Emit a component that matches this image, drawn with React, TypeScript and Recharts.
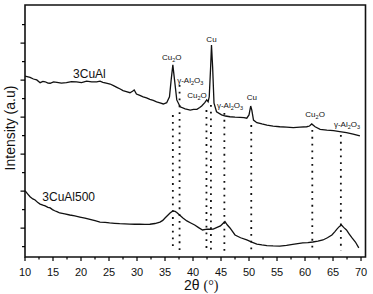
import React from 'react';
import { ComposedChart, Line, Scatter, XAxis, YAxis, ReferenceLine, ReferenceArea } from 'recharts';

const FONT = 'Liberation Sans, Arial, sans-serif';

// 2θ (°) and intensity (a.u.)
const cuAlX = [10, 10.9, 11.5, 12.1, 12.7, 13.2, 13.6, 14.1, 14.5, 15.1, 15.7, 16.5, 17.4, 18.3, 19.2, 20.1, 21, 21.9, 22.8, 23.4, 23.9, 24.5, 25.2, 25.8, 26.4, 27, 27.5, 28.1, 28.75, 29.2, 29.5, 29.9, 30.5, 31.1, 31.7, 32.3, 32.9, 33.5, 34.1, 34.7, 35.3, 35.8, 36.1, 36.4, 36.7, 37.1, 37.7, 38.6, 39.5, 40.1, 40.7, 41.2, 41.55, 42.1, 42.45, 42.7, 42.9, 43.15, 43.3, 43.5, 43.75, 44.2, 45.1, 45.8, 46.6, 47.5, 48.4, 49.1, 49.6, 50, 50.3, 50.5, 50.8, 51.4, 52.3, 53.2, 54.3, 55.5, 56.7, 57.9, 59.1, 60.3, 60.8, 61.2, 61.8, 62.7, 63.9, 65.1, 66.2, 67.4, 68.6, 69.8];
const cuAlY = [922, 915, 906, 901, 886, 893, 891, 884, 883, 890, 888, 884, 886, 892, 891, 887, 895, 890, 891, 894, 888, 884, 879, 870, 861, 852, 843, 838, 832, 840, 847, 825, 818, 810, 804, 796, 790, 783, 777, 771, 778, 810, 901, 982, 901, 793, 756, 745, 738, 742, 742, 752, 760, 778, 793, 783, 810, 973, 1090, 973, 775, 729, 712, 706, 702, 700, 699, 697, 694, 712, 760, 738, 684, 670, 663, 657, 651, 648, 646, 643, 646, 648, 652, 663, 648, 634, 630, 627, 622, 616, 608, 598];

const cuAl500X = [10, 10.5, 10.9, 11.4, 11.8, 12.3, 12.7, 13.2, 13.6, 14.1, 14.5, 14.9, 15.3, 15.8, 16.2, 17.1, 18, 18.9, 19.8, 20.7, 21.6, 22.5, 23.4, 24.3, 25.1, 26, 26.9, 27.8, 28.7, 29.6, 30.5, 31.4, 32.3, 33.2, 34.1, 34.6, 35, 35.5, 35.9, 36.4, 36.8, 37.1, 37.6, 38.2, 38.9, 39.6, 40.3, 41, 41.7, 42.5, 43, 43.6, 44.3, 44.9, 45.3, 45.7, 46.1, 46.6, 47.5, 48.5, 49.6, 50.5, 51.4, 52.3, 53.2, 54.3, 55.5, 56.7, 57.8, 58.7, 59.6, 60.5, 61.4, 62.3, 63.2, 64, 64.8, 65.3, 65.7, 66.1, 66.5, 66.9, 67.4, 67.9, 68.4, 69, 69.6];
const cuAl500Y = [302, 284, 270, 258, 252, 238, 230, 224, 220, 212, 209, 200, 194, 188, 182, 177, 171, 166, 160, 154, 147, 140, 133, 131, 128, 126, 124, 123, 122, 121, 122, 120, 121, 125, 133, 142, 155, 170, 182, 193, 190, 185, 171, 155, 139, 128, 117, 103, 90, 95, 94, 95, 104, 112, 124, 136, 118, 101, 63, 48, 36, 24, 14, 9, 6, 4, 3, 7, 12, 16, 20, 22, 25, 30, 36, 48, 63, 80, 95, 108, 117, 104, 90, 68, 47, 25, -7];

// reflection positions (dotted guide lines): 2θ, top intensity
const refX = [36.4, 37.6, 42.4, 43.2, 45.6, 50.4, 61.3, 66.4];
const refTop = [711, 874, 738, 766, 722, 657, 630, 603];
const refBottom = -24;

// phase labels
const phaseText = ['Cu2O', 'γ-Al2O3', 'Cu2O', 'Cu', 'γ-Al2O3', 'Cu', 'Cu2O', 'γ-Al2O3'];
const phaseX = [36.2, 39.5, 40.7, 43.3, 46.6, 50.5, 61.8, 67.5];
const phaseY = [1009, 884, 803, 1108, 748, 793, 699, 648];

// sample names
const sampleText = ['3CuAl', '3CuAl500'];
const sampleX = [21.5, 17.8];
const sampleY = [910, 247];

const xTicks = [10, 12.5, 15, 17.5, 20, 22.5, 25, 27.5, 30, 32.5, 35, 37.5, 40, 42.5, 45, 47.5, 50, 52.5, 55, 57.5, 60, 62.5, 65, 67.5, 70];
const yTicks = [0, 100, 200, 300, 400, 500, 600, 700, 800, 900, 1000, 1100, 1200];

const cuAl = cuAlX.map((x, i) => ({ x, y: cuAlY[i] }));
const cuAl500 = cuAl500X.map((x, i) => ({ x, y: cuAl500Y[i] }));
const phases = phaseX.map((x, i) => ({ x, y: phaseY[i], text: phaseText[i] }));
const samples = sampleX.map((x, i) => ({ x, y: sampleY[i], text: sampleText[i] }));

const renderXTick = (props: any) => {
  const { x, y, payload } = props;
  const major = payload.value % 5 === 0;
  return (
    <g key={`xt-${payload.value}`}>
      <line x1={x} x2={x} y1={y} y2={y + (major ? 4 : 2.5)} stroke="#000" strokeWidth={1.2} />
      {major && (
        <text x={x} y={y + 19} textAnchor="middle" fontSize={11} fontFamily={FONT} fill="#111">
          {payload.value}
        </text>
      )}
    </g>
  );
};

const renderYTick = (props: any) => {
  const { x, y, payload } = props;
  const major = payload.value % 200 === 100;
  return <line key={`yt-${payload.value}`} x1={x} x2={x - (major ? 4.5 : 3)} y1={y} y2={y} stroke="#000" strokeWidth={1.2} />;
};

const renderFormula = (text: string) => {
  const parts: React.ReactNode[] = [];
  let prevSub = false;
  let k = 0;
  for (const ch of text) {
    const isDigit = ch >= '0' && ch <= '9';
    if (isDigit) {
      parts.push(<tspan key={k++} fontSize={5.5} dy={2}>{ch}</tspan>);
      prevSub = true;
    } else {
      parts.push(<tspan key={k++} dy={prevSub ? -2 : 0}>{ch}</tspan>);
      prevSub = false;
    }
  }
  return parts;
};

const renderPhase = (props: any) => {
  const { cx, cy, payload } = props;
  return (
    <text x={cx} y={cy} textAnchor="middle" fontSize={8} fontFamily={FONT} fill="#111" stroke="none">
      {renderFormula(payload.text)}
    </text>
  );
};

const renderSample = (props: any) => {
  const { cx, cy, payload } = props;
  return (
    <text x={cx} y={cy} textAnchor="middle" fontSize={12} fontFamily={FONT} fill="#111" stroke="none">
      {payload.text}
    </text>
  );
};

const renderYLabel = (props: any) => {
  const vb = props.viewBox || { x: 0, y: 5, width: 25, height: 252 };
  const cx = vb.x + vb.width - 10.5;
  const cy = vb.y + vb.height / 2 - 3;
  return (
    <text transform={`translate(${cx},${cy}) rotate(-90)`} textAnchor="middle" fontSize={14} fontFamily={FONT} fill="#111">
      Intensity (a.u)
    </text>
  );
};

const renderXLabel = (props: any) => {
  const vb = props.viewBox || { x: 25, y: 257, width: 340 };
  const cx = vb.x + vb.width / 2 + 6;
  return (
    <text x={cx} y={vb.y + 33} textAnchor="middle" fontSize={14} fontFamily={FONT} fill="#111">
      <tspan>2θ </tspan>
      <tspan fontFamily="Liberation Serif, Times New Roman, serif">(°)</tspan>
    </text>
  );
};

export default function App() {
  return (
    <div style={{ position: 'absolute', left: 0, top: 0, background: '#fff' }}>
      <ComposedChart width={373} height={294} margin={{ top: 5, right: 7.5, bottom: 0, left: 0 }}>
        <XAxis
          dataKey="x"
          type="number"
          domain={[10, 70.8]}
          ticks={xTicks}
          interval={0}
          tick={renderXTick}
          tickLine={false}
          tickSize={0}
          tickMargin={0}
          axisLine={false}
          height={37}
          allowDataOverflow
          label={{ content: renderXLabel }}
        />
        <YAxis
          dataKey="y"
          type="number"
          domain={[-56, 1306]}
          ticks={yTicks}
          interval={0}
          tick={renderYTick}
          tickLine={false}
          tickSize={0}
          tickMargin={0}
          axisLine={false}
          width={25}
          allowDataOverflow
          label={{ content: renderYLabel }}
        />
        <ReferenceArea x1={10} x2={70.8} y1={-56} y2={1306} fill="none" stroke="#111" strokeWidth={1.6} ifOverflow="visible" />
        {refX.map((x, i) => (
          <ReferenceLine
            key={i}
            segment={[{ x, y: refTop[i] }, { x, y: refBottom }]}
            stroke="#111"
            strokeWidth={1.8}
            strokeDasharray="1.8 5"
            ifOverflow="visible"
          />
        ))}
        <Line data={cuAl} dataKey="y" type="linear" stroke="#111" strokeWidth={1.3} dot={false} isAnimationActive={false} />
        <Line data={cuAl500} dataKey="y" type="linear" stroke="#111" strokeWidth={1.3} dot={false} isAnimationActive={false} />
        <Scatter data={phases} dataKey="y" fill="#111" shape={renderPhase} isAnimationActive={false} />
        <Scatter data={samples} dataKey="y" fill="#111" shape={renderSample} isAnimationActive={false} />
      </ComposedChart>
    </div>
  );
}
